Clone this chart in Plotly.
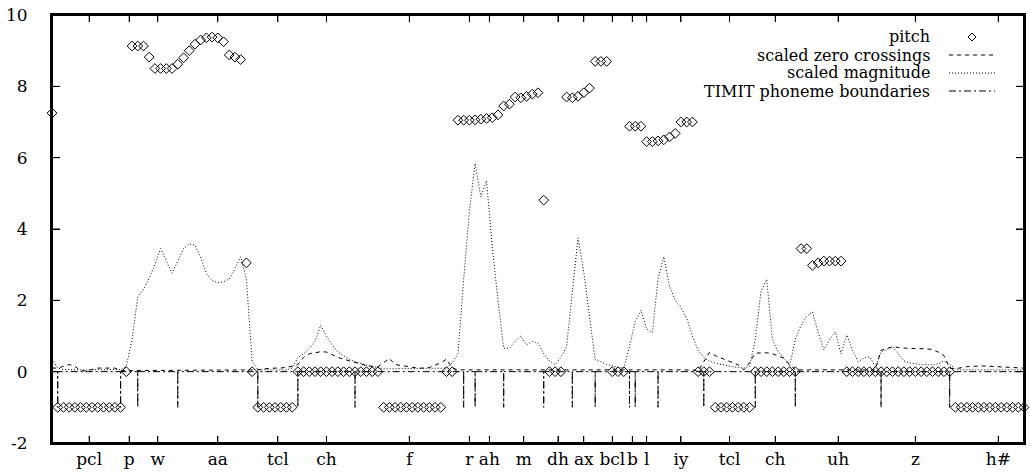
import plotly.graph_objects as go

# ---------------- data (one value per analysis frame) ----------------
pitch = [
    7.25,
    -1, -1, -1, -1, -1, -1, -1, -1, -1, -1, -1, -1,
    0,
    9.13, 9.13, 9.13, 8.82, 8.5, 8.5, 8.5, 8.5,
    8.62, 8.8, 9.0, 9.18, 9.3, 9.36, 9.38, 9.36, 9.25, 8.88, 8.82, 8.75,
    3.05, 0,
    -1, -1, -1, -1, -1, -1, -1,
    0, 0, 0, 0, 0, 0, 0, 0, 0, 0, 0, 0, 0, 0, 0,
    -1, -1, -1, -1, -1, -1, -1, -1, -1, -1, -1,
    0, 0,
    7.05, 7.05, 7.05, 7.06, 7.08, 7.1, 7.12, 7.2,
    7.45, 7.5,
    7.7, 7.68, 7.72, 7.78, 7.82,
    4.81,
    0, 0, 0,
    7.7, 7.68, 7.72, 7.82, 7.95,
    8.7, 8.7, 8.7,
    0, 0, 0,
    6.88, 6.88, 6.88,
    6.45, 6.45, 6.47, 6.5, 6.58, 6.68,
    7.0, 7.0, 7.0,
    0, 0, 0,
    -1, -1, -1, -1, -1, -1, -1,
    0, 0, 0, 0, 0, 0, 0, 0,
    3.45, 3.45, 2.98, 3.05, 3.1, 3.1, 3.1, 3.1,
    0, 0, 0, 0, 0, 0, 0, 0, 0, 0, 0, 0, 0, 0, 0, 0, 0, 0, 0,
    -1, -1, -1, -1, -1, -1, -1, -1, -1, -1, -1, -1, -1,
]

zero_crossings = [
    0.10, 0.10, 0.15, 0.20, 0.15, 0.03, 0.02, 0.06, 0.10, 0.10,
    0.10, 0.10, 0.03, 0.03, 0.05, 0.05, 0.05, 0.05, 0.05, 0.05,
    0.05, 0.05, 0.05, 0.05, 0.05, 0.05, 0.05, 0.05, 0.05, 0.05,
    0.05, 0.05, 0.05, 0.05, 0.05, 0.05, 0.05, 0.08, 0.10, 0.10,
    0.10, 0.12, 0.15, 0.20, 0.40, 0.50, 0.53, 0.56, 0.55, 0.47,
    0.40, 0.35, 0.30, 0.25, 0.20, 0.17, 0.15, 0.14, 0.25, 0.37,
    0.20, 0.17, 0.15, 0.13, 0.10, 0.10, 0.12, 0.18, 0.25, 0.35,
    0.10, 0.05, 0.05, 0.05, 0.05, 0.05, 0.05, 0.05, 0.05, 0.05,
    0.05, 0.05, 0.05, 0.05, 0.05, 0.05, 0.05, 0.05, 0.05, 0.05,
    0.05, 0.05, 0.05, 0.05, 0.05, 0.05, 0.05, 0.05, 0.05, 0.05,
    0.05, 0.05, 0.05, 0.05, 0.05, 0.05, 0.05, 0.05, 0.05, 0.05,
    0.05, 0.05, 0.05, 0.02, 0.30, 0.54, 0.45, 0.38, 0.32, 0.25,
    0.19, 0.05, 0.25, 0.52, 0.53, 0.53, 0.50, 0.45, 0.38, 0.20,
    0.05, 0.05, 0.05, 0.05, 0.05, 0.05, 0.05, 0.05, 0.05, 0.05,
    0.05, 0.05, 0.05, 0.05, 0.05, 0.60, 0.65, 0.70, 0.68, 0.66,
    0.65, 0.65, 0.65, 0.64, 0.62, 0.55, 0.45, 0.10, 0.08, 0.12,
    0.14, 0.15, 0.16, 0.16, 0.15, 0.14, 0.14, 0.13, 0.12, 0.11,
    0.10,
]

magnitude = [
    0.35, 0.10, 0.06, 0.05, 0.05, 0.05, 0.05, 0.05, 0.05, 0.05,
    0.05, 0.05, 0.06, 0.15, 0.90, 2.10, 2.30, 2.62, 3.00, 3.45,
    3.10, 2.76, 3.10, 3.45, 3.58, 3.55, 3.20, 2.76, 2.55, 2.50,
    2.52, 2.60, 2.90, 3.22, 2.60, 0.30, 0.05, 0.05, 0.05, 0.05,
    0.05, 0.05, 0.10, 0.40, 0.50, 0.65, 0.85, 1.30, 1.00, 0.75,
    0.55, 0.45, 0.35, 0.28, 0.22, 0.18, 0.15, 0.12, 0.08, 0.08,
    0.08, 0.08, 0.08, 0.08, 0.08, 0.08, 0.08, 0.08, 0.08, 0.10,
    0.25, 0.50, 2.60, 4.50, 5.84, 4.90, 5.35, 3.50, 2.00, 0.66,
    0.66, 0.85, 1.00, 0.75, 0.85, 0.80, 0.50, 0.30, 0.20, 0.40,
    0.70, 2.20, 3.75, 2.80, 1.60, 0.33, 0.28, 0.20, 0.17, 0.12,
    0.10, 0.70, 1.40, 1.72, 1.20, 1.10, 2.60, 3.22, 2.40, 2.00,
    1.80, 1.50, 1.00, 0.60, 0.40, 0.30, 0.24, 0.20, 0.17, 0.14,
    0.12, 0.10, 0.15, 0.90, 2.25, 2.59, 0.90, 0.55, 0.40, 0.15,
    0.90, 1.30, 1.55, 1.68, 1.10, 0.61, 0.90, 1.12, 0.50, 1.03,
    0.60, 0.28, 0.38, 0.42, 0.14, 0.56, 0.62, 0.70, 0.50, 0.30,
    0.25, 0.22, 0.20, 0.20, 0.19, 0.22, 0.30, 0.20, 0.08, 0.05,
    0.05, 0.05, 0.05, 0.05, 0.05, 0.05, 0.05, 0.05, 0.05, 0.05,
    0.05,
]

phonemes = ["pcl", "p", "w", "aa", "tcl", "ch", "f", "r", "ah", "m", "dh",
            "ax", "bcl", "b", "l", "iy", "tcl", "ch", "uh", "z", "h#"]
phoneme_starts = [1, 12, 15, 22, 36, 43, 53, 72, 74, 79, 86,
                  91, 95, 101, 102, 106, 114, 123, 130, 145, 157]
phoneme_end = 174

y_ticks = [-2, 0, 2, 4, 6, 8, 10]
x_range = [0, 170]
y_range = [-2, 10]

legend_names = ["pitch", "scaled zero crossings", "scaled magnitude",
                "TIMIT phoneme boundaries"]

# ---------------- derived ----------------
frames = list(range(len(pitch)))
bounds = phoneme_starts + [phoneme_end]
tick_pos = [(bounds[i] + bounds[i + 1]) / 2 for i in range(len(phonemes))]

bx, by = [x_range[0]], [0]
for s in phoneme_starts:
    bx += [s, s, s]
    by += [0, -1, 0]
bx.append(x_range[1])
by.append(0)

FONT = "DejaVu Serif"
DOT = "1px,2px"
DASH = "4px,4px"
DASHDOT = "7px,3px,2px,3px"
FRAME_W = 2

fig = go.Figure()
fig.add_trace(go.Scatter(x=frames, y=pitch, mode="markers", name=legend_names[0],
                         marker=dict(symbol="diamond-open", size=7.5,
                                     color="black", line=dict(width=1)),
                         cliponaxis=False, showlegend=False))
fig.add_trace(go.Scatter(x=frames, y=zero_crossings, mode="lines", name=legend_names[1],
                         line=dict(color="black", width=1, dash=DASH),
                         showlegend=False))
fig.add_trace(go.Scatter(x=frames, y=magnitude, mode="lines", name=legend_names[2],
                         line=dict(color="black", width=1, dash=DOT),
                         showlegend=False))
fig.add_trace(go.Scatter(x=bx, y=by, mode="lines", name=legend_names[3],
                         line=dict(color="black", width=1, dash=DASHDOT),
                         showlegend=False))

# ---------------- geometry helpers ----------------
L, R, T, B = 52, 6, 15, 33
W, H = 1030, 476
pw, ph = W - L - R, H - T - B

def px_x(p):
    return (p - L) / pw

def px_y(p):
    return (H - B - p) / ph

# ---------------- frame and inward ticks (gnuplot border) ----------------
shapes = []
for y0 in (0, 1):
    shapes.append(dict(type="line", xref="paper", yref="paper", x0=0, x1=1, y0=y0, y1=y0,
                       line=dict(color="black", width=FRAME_W), layer="above"))
for x0 in (0, 1):
    shapes.append(dict(type="line", xref="paper", yref="paper", x0=x0, x1=x0, y0=0, y1=1,
                       line=dict(color="black", width=FRAME_W), layer="above"))
xt_len, yt_len = 7 / ph, 8 / pw
for t in tick_pos:
    shapes.append(dict(type="line", xref="x", yref="paper", x0=t, x1=t, y0=0, y1=xt_len,
                       line=dict(color="black", width=1), layer="above"))
    shapes.append(dict(type="line", xref="x", yref="paper", x0=t, x1=t, y0=1, y1=1 - xt_len,
                       line=dict(color="black", width=1), layer="above"))
for v in y_ticks[1:-1]:
    shapes.append(dict(type="line", xref="paper", yref="y", x0=0, x1=yt_len, y0=v, y1=v,
                       line=dict(color="black", width=1), layer="above"))
    shapes.append(dict(type="line", xref="paper", yref="y", x0=1, x1=1 - yt_len, y0=v, y1=v,
                       line=dict(color="black", width=1), layer="above"))

# ---------------- gnuplot-style legend (right-aligned text, sample on the right) ----
text_right = 932
sample_l, sample_r = 949, 995
rows = [37, 55, 73, 91]
dashes = [None, DASH, DOT, DASHDOT]

annotations = []
for name, row, d in zip(legend_names, rows, dashes):
    annotations.append(dict(x=px_x(text_right), y=px_y(row), xref="paper", yref="paper",
                            text=name, showarrow=False, xanchor="right", yanchor="middle",
                            font=dict(family=FONT, size=16, color="black")))
    if d is None:
        cx, cy = px_x((sample_l + sample_r) / 2), px_y(row)
        dx, dy = 4 / pw, 4 / ph
        shapes.append(dict(type="path", xref="paper", yref="paper",
                           path=f"M {cx-dx} {cy} L {cx} {cy+dy} L {cx+dx} {cy} L {cx} {cy-dy} Z",
                           line=dict(color="black", width=1)))
    else:
        shapes.append(dict(type="line", xref="paper", yref="paper",
                           x0=px_x(sample_l), x1=px_x(sample_r),
                           y0=px_y(row), y1=px_y(row),
                           line=dict(color="black", width=1, dash=d)))

fig.update_layout(
    width=W, height=H,
    margin=dict(l=L, r=R, t=T, b=B, pad=0),
    paper_bgcolor="white", plot_bgcolor="white",
    font=dict(family=FONT, size=17, color="black"),
    showlegend=False,
    hovermode=False,
    annotations=annotations,
    shapes=shapes,
    xaxis=dict(range=x_range, tickvals=tick_pos, ticktext=phonemes,
               tickangle=0, automargin=False,
               ticks="inside", ticklen=7, tickwidth=1, tickcolor="black",
               showline=True, linecolor="black", linewidth=FRAME_W, mirror="ticks",
               showgrid=False, zeroline=False, ticklabelstandoff=0,
               tickfont=dict(family=FONT, size=17, color="black")),
    yaxis=dict(range=y_range, tickvals=y_ticks, ticktext=[str(v) for v in y_ticks],
               automargin=False,
               ticks="inside", ticklen=8, tickwidth=1, tickcolor="black",
               showline=True, linecolor="black", linewidth=FRAME_W, mirror="ticks",
               showgrid=False, zeroline=False, ticklabelstandoff=19,
               tickfont=dict(family=FONT, size=17, color="black")),
)

fig.write_html(
    "out.html",
    config={"displayModeBar": False, "staticPlot": True},
    post_script="document.body.style.margin='0px';document.body.style.overflow='hidden';",
)
